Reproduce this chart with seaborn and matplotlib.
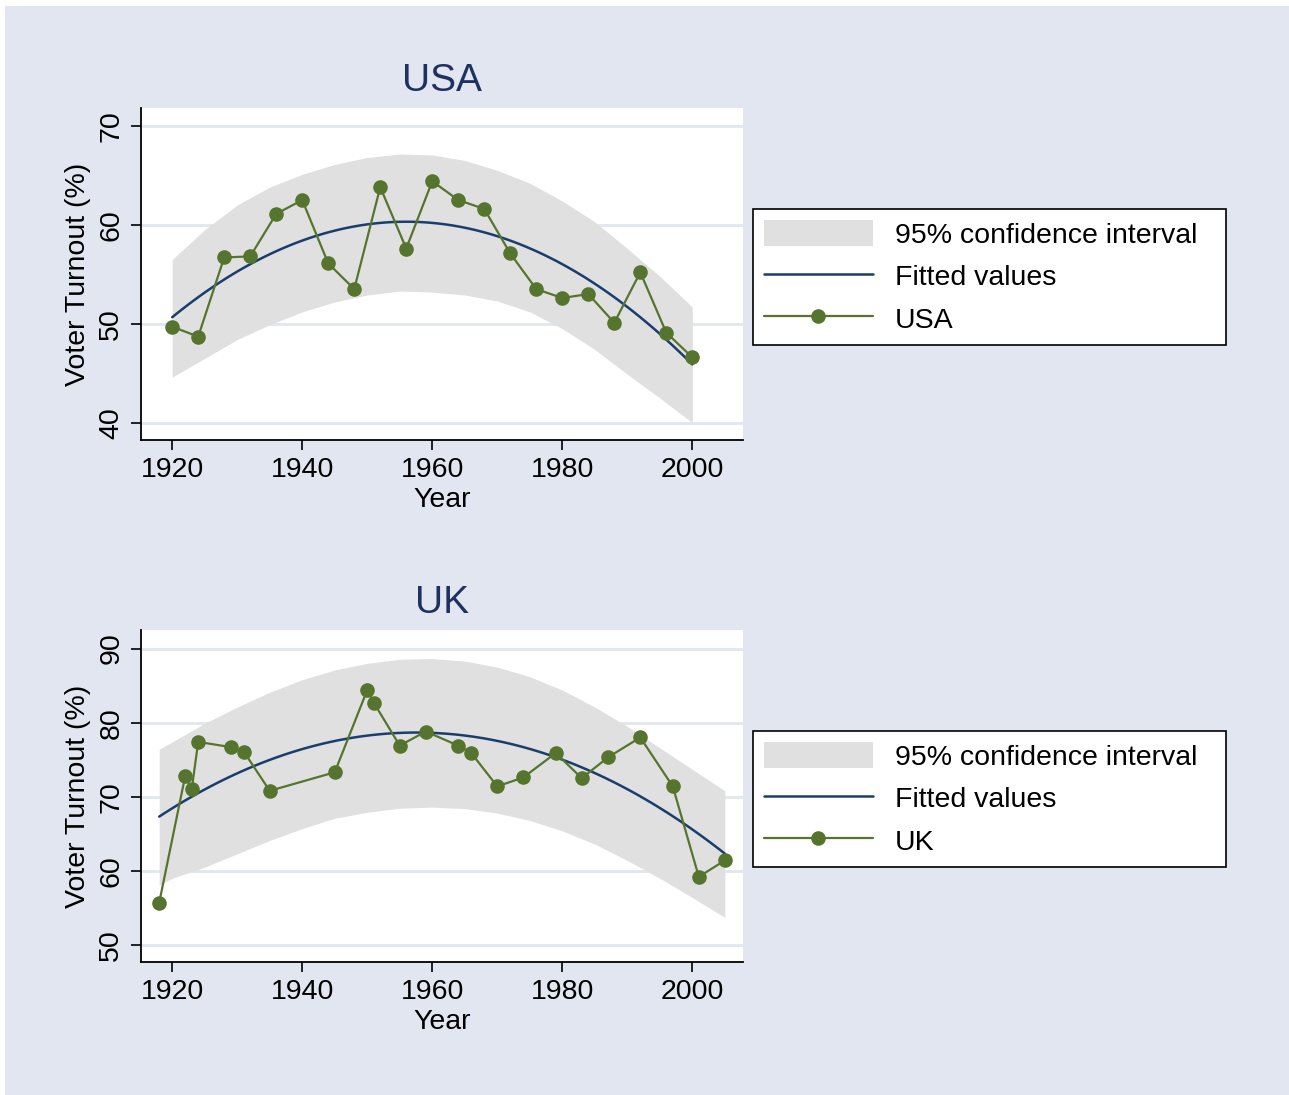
import matplotlib
matplotlib.use("Agg")
import matplotlib.pyplot as plt
from matplotlib.patches import Rectangle, Patch
from matplotlib.lines import Line2D
import pandas as pd
import seaborn as sns

# USA turnout
usa_years = [1920, 1924, 1928, 1932, 1936, 1940, 1944, 1948, 1952, 1956, 1960,
             1964, 1968, 1972, 1976, 1980, 1984, 1988, 1992, 1996, 2000]
usa_turnout = [49.7, 48.7, 56.7, 56.8, 61.1, 62.5, 56.1, 53.5, 63.8, 57.6, 64.4,
               62.5, 61.6, 57.1, 53.5, 52.6, 53.0, 50.1, 55.2, 49.1, 46.6]
usa_band_years = [1920, 1925, 1930, 1935, 1940, 1945, 1950, 1955, 1960,
                  1965, 1970, 1975, 1980, 1985, 1990, 1995, 2000]
usa_band_upper = [56.5, 59.5, 62.0, 63.8, 65.1, 66.1, 66.8, 67.15, 67.05,
                  66.5, 65.5, 64.2, 62.4, 60.3, 57.6, 54.8, 51.7]
usa_band_lower = [44.6, 46.5, 48.4, 49.9, 51.2, 52.2, 52.9, 53.3, 53.2,
                  52.9, 52.3, 51.2, 49.5, 47.4, 44.9, 42.5, 40.0]

# UK turnout
uk_years = [1918, 1922, 1923, 1924, 1929, 1931, 1935, 1945, 1950, 1951, 1955, 1959,
            1964, 1966, 1970, 1974, 1979, 1983, 1987, 1992, 1997, 2001, 2005]
uk_turnout = [55.7, 72.8, 71.0, 77.4, 76.7, 76.1, 70.8, 73.3, 84.4, 82.7, 76.9, 78.8,
              76.9, 75.9, 71.4, 72.6, 75.9, 72.5, 75.3, 78.0, 71.4, 59.2, 61.4]
uk_band_years = [1918, 1920, 1925, 1930, 1935, 1940, 1945, 1950, 1955, 1960,
                 1965, 1970, 1975, 1980, 1985, 1990, 1995, 2000, 2005]
uk_band_upper = [76.4, 77.4, 79.9, 82.1, 84.1, 85.8, 87.1, 88.0, 88.55, 88.65,
                 88.3, 87.5, 86.2, 84.4, 82.1, 79.5, 76.6, 73.7, 70.8]
uk_band_lower = [58.1, 59.0, 60.5, 62.3, 64.1, 65.7, 67.1, 67.9, 68.45, 68.6,
                 68.4, 67.8, 66.8, 65.4, 63.6, 61.4, 59.0, 56.4, 53.7]

BG = "#e1e6f0"
GREEN = "#55752f"
NAVY = "#1a3d6e"
BAND = "#e0e0e0"
TITLE = "#1e3160"
FS = 20.5

sns.set_theme(style="ticks")
plt.rcParams["font.family"] = ["Liberation Sans", "DejaVu Sans"]

W, H = 1289, 1095
fig = plt.figure(figsize=(W / 100, H / 100), dpi=100, facecolor="white")
fig.patches.append(Rectangle((5 / W, 0), 1, 1 - 6 / H, transform=fig.transFigure,
                             facecolor=BG, edgecolor="none", zorder=-10))

panels = [
    ("USA", usa_years, usa_turnout, usa_band_years, usa_band_upper, usa_band_lower,
     [40, 50, 60, 70], (38.25, 71.8), 440, 345),
    ("UK", uk_years, uk_turnout, uk_band_years, uk_band_upper, uk_band_lower,
     [50, 60, 70, 80, 90], (47.7, 92.5), 962, 867),
]

for name, yrs, vals, byrs, bup, blo, yticks, ylim, ax_bottom_px, leg_bottom_px in panels:
    ax = fig.add_axes([141 / W, 1 - ax_bottom_px / H, 602 / W, 332 / H])
    ax.set_facecolor("white")
    df = pd.DataFrame({"Year": yrs, "Turnout": vals})

    ax.fill_between(byrs, blo, bup, color=BAND, linewidth=0, zorder=1)
    sns.regplot(data=df, x="Year", y="Turnout", order=2, ci=None, scatter=False,
                ax=ax, color=NAVY, line_kws={"linewidth": 1.8, "zorder": 2})
    sns.lineplot(data=df, x="Year", y="Turnout", ax=ax, color=GREEN, linewidth=1.6,
                 marker="o", markersize=10.5, markeredgewidth=0, zorder=3)

    ax.set_xlim(1915.2, 2007.8)
    ax.set_ylim(*ylim)
    ax.set_xticks([1920, 1940, 1960, 1980, 2000])
    ax.set_yticks(yticks)
    ax.yaxis.grid(True, color=BG, linewidth=2)
    ax.xaxis.grid(False)
    ax.set_axisbelow(True)
    sns.despine(ax=ax)
    for s in ["left", "bottom"]:
        ax.spines[s].set_color("black")
        ax.spines[s].set_linewidth(1.3)
    ax.tick_params(axis="both", direction="out", length=7, width=1.2, color="black",
                   labelsize=FS, labelcolor="black", pad=5)
    ax.tick_params(axis="y", labelrotation=90)
    for lab in ax.get_yticklabels():
        lab.set_va("center")

    ax.set_xlabel("Year", fontsize=FS, color="black", labelpad=3)
    ax.set_ylabel("Voter Turnout (%)", fontsize=FS, color="black", labelpad=5)
    ax.set_title(name, fontsize=28, color=TITLE, pad=12)

    handles = [
        Patch(facecolor=BAND, edgecolor="none"),
        Line2D([], [], color=NAVY, linewidth=1.8),
        Line2D([], [], color=GREEN, linewidth=1.6, marker="o", markersize=10.5,
               markeredgewidth=0),
    ]
    labels = ["95% confidence interval", "Fitted values", name]
    leg = ax.legend(handles, labels, loc="lower left",
                    bbox_to_anchor=(753 / W, 1 - leg_bottom_px / H, 473 / W, 140 / H),
                    bbox_transform=fig.transFigure, mode="expand",
                    fontsize=FS, frameon=True, fancybox=False, framealpha=1,
                    edgecolor="black", facecolor="white", borderpad=0.4,
                    handlelength=3.8, handleheight=1.05, handletextpad=0.77,
                    labelspacing=0.47, borderaxespad=0)
    leg.get_frame().set_linewidth(1.2)
    for t in leg.get_texts():
        t.set_color("black")

fig.savefig("out.png", dpi=100, facecolor=fig.get_facecolor())
